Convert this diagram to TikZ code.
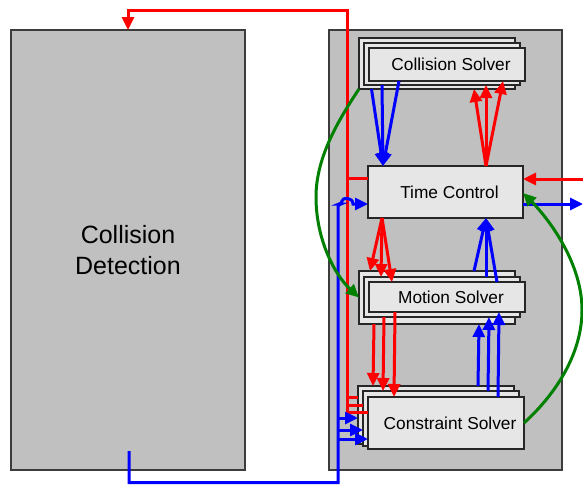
\documentclass[tikz,border=0pt]{standalone}
\usepackage{fontspec}
\setmainfont{Liberation Sans}
\usetikzlibrary{arrows.meta,calc}
\definecolor{boxgray}{RGB}{192,192,192}
\definecolor{boxlight}{RGB}{230,230,230}
\definecolor{edgegray}{RGB}{60,60,60}
\definecolor{dgreen}{RGB}{0,128,0}
\tikzset{
  panel/.style={draw=edgegray, line width=1.2pt, fill=boxgray, inner sep=0pt, outer sep=0pt},
  unit/.style={draw=black!85, line width=1.5pt, fill=boxlight, inner sep=0pt, outer sep=0pt, minimum width=156pt, font=\fontsize{17.3}{20}\selectfont},
  conn/.style={line width=3pt},
  arr/.style={conn, -{Triangle[length=13pt,width=12pt]}},
}
\begin{document}
\begin{tikzpicture}[x=1pt,y=-1pt]
\useasboundingbox (0,0) rectangle (583,485);
% panels
\node[panel, minimum width=234pt, minimum height=440pt, align=center, font=\fontsize{25}{31}\selectfont] (cd) at (128,250) {Collision\\Detection};
\node[panel, minimum width=233pt, minimum height=440pt] (rb) at (445.5,250) {};
% collision solver stack
\node[unit, minimum height=51pt] (csb) at (437,63.5) {};
\node[unit, minimum height=42pt] (csm) at (442,64) {};
\node[unit, minimum height=33pt] (csf) at (447,64.5) {\hspace*{8pt}Collision Solver};
% time control
\node[unit, minimum width=155pt, minimum height=52pt] (tc) at (445.5,192) {\hspace*{8pt}Time Control};
% motion solver stack
\node[unit, minimum height=53pt] (msb) at (437,297.5) {};
\node[unit, minimum height=40pt] (msm) at (442,297) {};
\node[unit, minimum height=30pt] (msf) at (447,297) {\hspace*{8pt}Motion Solver};
% constraint solver stack
\node[unit, minimum height=58pt] (cnsb) at (436,415) {};
\node[unit, minimum height=55pt] (cnsm) at (441,418.5) {};
\node[unit, minimum height=52pt] (cnsf) at (446,423) {\hspace*{8pt}Constraint Solver};

% collision solver -> time control (blue)
\draw[arr,blue] ($(csb.south west)+(12.5,0)$) -- ($(tc.north west)+(15,0)$);
\draw[arr,blue] ($(csm.south west)+(18,0)$) -- ($(tc.north west)+(15,0)$);
\draw[arr,blue] ($(csf.south west)+(30,0)$) -- ($(tc.north west)+(15,0)$);
% time control -> collision solver (red)
\draw[arr,red] ($(tc.north west)+(118,0)$) -- ($(csb.south west)+(115,0)$);
\draw[arr,red] ($(tc.north west)+(118,0)$) -- ($(csm.south west)+(122,0)$);
\draw[arr,red] ($(tc.north west)+(118,0)$) -- ($(csf.south west)+(134,0)$);
% time control -> motion solver (red)
\draw[arr,red] ($(tc.south west)+(14,0)$) -- ($(msb.north west)+(11,0)$);
\draw[arr,red] ($(tc.south west)+(14,0)$) -- ($(msm.north west)+(17,0)$);
\draw[arr,red] ($(tc.south west)+(14,0)$) -- ($(msf.north west)+(23,0)$);
% motion solver -> time control (blue)
\draw[arr,blue] ($(msb.north west)+(115,0)$) -- ($(tc.south west)+(118,0)$);
\draw[arr,blue] ($(msm.north west)+(122,0)$) -- ($(tc.south west)+(118,0)$);
\draw[arr,blue] ($(msf.north west)+(128,0)$) -- ($(tc.south west)+(118,0)$);
% motion solver -> constraint solver (red)
\draw[arr,red] ($(msb.south west)+(15,0)$) -- ($(cnsb.north west)+(15,0)$);
\draw[arr,red] ($(msm.south west)+(20,0)$) -- ($(cnsm.north west)+(20,0)$);
\draw[arr,red] ($(msf.south west)+(26,0)$) -- ($(cnsf.north west)+(26,0)$);
% constraint solver -> motion solver (blue)
\draw[arr,blue] ($(cnsb.north west)+(120,0)$) -- ($(msb.south west)+(120,0)$);
\draw[arr,blue] ($(cnsm.north west)+(125,0)$) -- ($(msm.south west)+(125,0)$);
\draw[arr,blue] ($(cnsf.north west)+(130,0)$) -- ($(msf.south west)+(130,0)$);

% red bus to collision detection
\coordinate (bus) at (347.5,10);
\draw[arr,red] ($(cnsf.north west)+(0,15)$) -| (bus) -| (cd.north);
\coordinate (r1) at ($(cnsb.north west)+(0,11)$);
\coordinate (r2) at ($(cnsm.north west)+(0,14)$);
\coordinate (r3) at ($(tc.west)+(0,-14)$);
\draw[conn,red] (r1) -- (bus |- r1);
\draw[conn,red] (r2) -- (bus |- r2);
\draw[conn,red] (r3) -- (bus |- r3);

% blue bus from collision detection
\coordinate (bbus) at (338,482.5);
\draw[arr,blue] ($(cd.south)+(1,-19)$) |- (bbus) [rounded corners=3pt] |- ($(tc.west)+(-26,12)$) [sharp corners]
  .. controls +(0,-7) and +(0,-7) .. ($(tc.west)+(-15,12)$) -- ($(tc.west)+(0,12)$);
\coordinate (b1) at ($(cnsb.north west)+(0,32)$);
\coordinate (b2) at ($(cnsm.north west)+(0,39)$);
\coordinate (b3) at ($(cnsf.north west)+(0,42)$);
\draw[arr,blue] (bbus |- b1) -- (b1);
\draw[arr,blue] (bbus |- b2) -- (b2);
\draw[arr,blue] (bbus |- b3) -- (b3);

% right side in/out
\coordinate (redin) at (583,179);
\coordinate (blueout) at (583,204);
\draw[arr,red] (redin) -- (tc.east |- redin);
\draw[arr,blue] (tc.east |- blueout) -- (blueout);

% green curves
\coordinate (g1) at (316,197);
\draw[arr,dgreen] (csb.south west) .. controls ($(csb.south west)+(-24,36)$) and (316,160) .. (g1)
  .. controls (316,240) and (335,275) .. (msb.west);
\coordinate (g2) at (582,310);
\draw[arr,dgreen] (cnsf.east) .. controls (560,390) and (582,350) .. (g2)
  .. controls (582,260) and (545,215) .. ($(tc.east)+(0,1)$);
\end{tikzpicture}
\end{document}
